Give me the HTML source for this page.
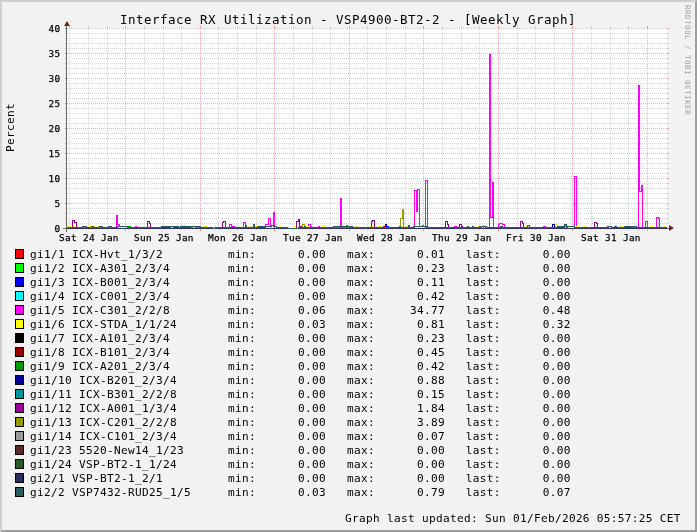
<!DOCTYPE html><html><head><meta charset="utf-8"><title>Interface RX Utilization</title><style>html,body{margin:0;padding:0;background:#f2f2f2;}body{width:697px;height:532px;overflow:hidden;position:relative;}</style></head><body><svg width="697" height="532" viewBox="0 0 697 532" style="position:absolute;left:0;top:0">
<rect x="0" y="0" width="697" height="532" fill="#f2f2f2"/>
<polygon points="0,0 697,0 695,2 2,2 2,530 0,532" fill="#cfcfcf"/>
<polygon points="697,0 697,532 0,532 2,530 695,530 695,2" fill="#9e9e9e"/>
<rect x="67" y="28" width="600" height="200" fill="#ffffff"/>
<g shape-rendering="crispEdges" stroke-width="1" fill="none"><line x1="65" y1="228.5" x2="669" y2="228.5" stroke="rgba(222,79,79,0.43)" stroke-dasharray="1 1"/><line x1="65" y1="228.5" x2="67" y2="228.5" stroke="rgba(222,79,79,0.43)"/><line x1="667" y1="228.5" x2="669" y2="228.5" stroke="rgba(222,79,79,0.43)"/><line x1="66" y1="223.5" x2="668" y2="223.5" stroke="rgba(143,143,143,0.366)" stroke-dasharray="1 1"/><line x1="65" y1="223.5" x2="67" y2="223.5" stroke="rgba(143,143,143,0.366)"/><line x1="667" y1="223.5" x2="669" y2="223.5" stroke="rgba(143,143,143,0.366)"/><line x1="66" y1="218.5" x2="668" y2="218.5" stroke="rgba(143,143,143,0.366)" stroke-dasharray="1 1"/><line x1="65" y1="218.5" x2="67" y2="218.5" stroke="rgba(143,143,143,0.366)"/><line x1="667" y1="218.5" x2="669" y2="218.5" stroke="rgba(143,143,143,0.366)"/><line x1="66" y1="213.5" x2="668" y2="213.5" stroke="rgba(143,143,143,0.366)" stroke-dasharray="1 1"/><line x1="65" y1="213.5" x2="67" y2="213.5" stroke="rgba(143,143,143,0.366)"/><line x1="667" y1="213.5" x2="669" y2="213.5" stroke="rgba(143,143,143,0.366)"/><line x1="66" y1="208.5" x2="668" y2="208.5" stroke="rgba(143,143,143,0.366)" stroke-dasharray="1 1"/><line x1="65" y1="208.5" x2="67" y2="208.5" stroke="rgba(143,143,143,0.366)"/><line x1="667" y1="208.5" x2="669" y2="208.5" stroke="rgba(143,143,143,0.366)"/><line x1="65" y1="203.5" x2="669" y2="203.5" stroke="rgba(222,79,79,0.43)" stroke-dasharray="1 1"/><line x1="65" y1="203.5" x2="67" y2="203.5" stroke="rgba(222,79,79,0.43)"/><line x1="667" y1="203.5" x2="669" y2="203.5" stroke="rgba(222,79,79,0.43)"/><line x1="66" y1="198.5" x2="668" y2="198.5" stroke="rgba(143,143,143,0.366)" stroke-dasharray="1 1"/><line x1="65" y1="198.5" x2="67" y2="198.5" stroke="rgba(143,143,143,0.366)"/><line x1="667" y1="198.5" x2="669" y2="198.5" stroke="rgba(143,143,143,0.366)"/><line x1="66" y1="193.5" x2="668" y2="193.5" stroke="rgba(143,143,143,0.366)" stroke-dasharray="1 1"/><line x1="65" y1="193.5" x2="67" y2="193.5" stroke="rgba(143,143,143,0.366)"/><line x1="667" y1="193.5" x2="669" y2="193.5" stroke="rgba(143,143,143,0.366)"/><line x1="66" y1="188.5" x2="668" y2="188.5" stroke="rgba(143,143,143,0.366)" stroke-dasharray="1 1"/><line x1="65" y1="188.5" x2="67" y2="188.5" stroke="rgba(143,143,143,0.366)"/><line x1="667" y1="188.5" x2="669" y2="188.5" stroke="rgba(143,143,143,0.366)"/><line x1="66" y1="183.5" x2="668" y2="183.5" stroke="rgba(143,143,143,0.366)" stroke-dasharray="1 1"/><line x1="65" y1="183.5" x2="67" y2="183.5" stroke="rgba(143,143,143,0.366)"/><line x1="667" y1="183.5" x2="669" y2="183.5" stroke="rgba(143,143,143,0.366)"/><line x1="65" y1="178.5" x2="669" y2="178.5" stroke="rgba(222,79,79,0.43)" stroke-dasharray="1 1"/><line x1="65" y1="178.5" x2="67" y2="178.5" stroke="rgba(222,79,79,0.43)"/><line x1="667" y1="178.5" x2="669" y2="178.5" stroke="rgba(222,79,79,0.43)"/><line x1="66" y1="173.5" x2="668" y2="173.5" stroke="rgba(143,143,143,0.366)" stroke-dasharray="1 1"/><line x1="65" y1="173.5" x2="67" y2="173.5" stroke="rgba(143,143,143,0.366)"/><line x1="667" y1="173.5" x2="669" y2="173.5" stroke="rgba(143,143,143,0.366)"/><line x1="66" y1="168.5" x2="668" y2="168.5" stroke="rgba(143,143,143,0.366)" stroke-dasharray="1 1"/><line x1="65" y1="168.5" x2="67" y2="168.5" stroke="rgba(143,143,143,0.366)"/><line x1="667" y1="168.5" x2="669" y2="168.5" stroke="rgba(143,143,143,0.366)"/><line x1="66" y1="163.5" x2="668" y2="163.5" stroke="rgba(143,143,143,0.366)" stroke-dasharray="1 1"/><line x1="65" y1="163.5" x2="67" y2="163.5" stroke="rgba(143,143,143,0.366)"/><line x1="667" y1="163.5" x2="669" y2="163.5" stroke="rgba(143,143,143,0.366)"/><line x1="66" y1="158.5" x2="668" y2="158.5" stroke="rgba(143,143,143,0.366)" stroke-dasharray="1 1"/><line x1="65" y1="158.5" x2="67" y2="158.5" stroke="rgba(143,143,143,0.366)"/><line x1="667" y1="158.5" x2="669" y2="158.5" stroke="rgba(143,143,143,0.366)"/><line x1="65" y1="153.5" x2="669" y2="153.5" stroke="rgba(222,79,79,0.43)" stroke-dasharray="1 1"/><line x1="65" y1="153.5" x2="67" y2="153.5" stroke="rgba(222,79,79,0.43)"/><line x1="667" y1="153.5" x2="669" y2="153.5" stroke="rgba(222,79,79,0.43)"/><line x1="66" y1="148.5" x2="668" y2="148.5" stroke="rgba(143,143,143,0.366)" stroke-dasharray="1 1"/><line x1="65" y1="148.5" x2="67" y2="148.5" stroke="rgba(143,143,143,0.366)"/><line x1="667" y1="148.5" x2="669" y2="148.5" stroke="rgba(143,143,143,0.366)"/><line x1="66" y1="143.5" x2="668" y2="143.5" stroke="rgba(143,143,143,0.366)" stroke-dasharray="1 1"/><line x1="65" y1="143.5" x2="67" y2="143.5" stroke="rgba(143,143,143,0.366)"/><line x1="667" y1="143.5" x2="669" y2="143.5" stroke="rgba(143,143,143,0.366)"/><line x1="66" y1="138.5" x2="668" y2="138.5" stroke="rgba(143,143,143,0.366)" stroke-dasharray="1 1"/><line x1="65" y1="138.5" x2="67" y2="138.5" stroke="rgba(143,143,143,0.366)"/><line x1="667" y1="138.5" x2="669" y2="138.5" stroke="rgba(143,143,143,0.366)"/><line x1="66" y1="133.5" x2="668" y2="133.5" stroke="rgba(143,143,143,0.366)" stroke-dasharray="1 1"/><line x1="65" y1="133.5" x2="67" y2="133.5" stroke="rgba(143,143,143,0.366)"/><line x1="667" y1="133.5" x2="669" y2="133.5" stroke="rgba(143,143,143,0.366)"/><line x1="65" y1="128.5" x2="669" y2="128.5" stroke="rgba(222,79,79,0.43)" stroke-dasharray="1 1"/><line x1="65" y1="128.5" x2="67" y2="128.5" stroke="rgba(222,79,79,0.43)"/><line x1="667" y1="128.5" x2="669" y2="128.5" stroke="rgba(222,79,79,0.43)"/><line x1="66" y1="123.5" x2="668" y2="123.5" stroke="rgba(143,143,143,0.366)" stroke-dasharray="1 1"/><line x1="65" y1="123.5" x2="67" y2="123.5" stroke="rgba(143,143,143,0.366)"/><line x1="667" y1="123.5" x2="669" y2="123.5" stroke="rgba(143,143,143,0.366)"/><line x1="66" y1="118.5" x2="668" y2="118.5" stroke="rgba(143,143,143,0.366)" stroke-dasharray="1 1"/><line x1="65" y1="118.5" x2="67" y2="118.5" stroke="rgba(143,143,143,0.366)"/><line x1="667" y1="118.5" x2="669" y2="118.5" stroke="rgba(143,143,143,0.366)"/><line x1="66" y1="113.5" x2="668" y2="113.5" stroke="rgba(143,143,143,0.366)" stroke-dasharray="1 1"/><line x1="65" y1="113.5" x2="67" y2="113.5" stroke="rgba(143,143,143,0.366)"/><line x1="667" y1="113.5" x2="669" y2="113.5" stroke="rgba(143,143,143,0.366)"/><line x1="66" y1="108.5" x2="668" y2="108.5" stroke="rgba(143,143,143,0.366)" stroke-dasharray="1 1"/><line x1="65" y1="108.5" x2="67" y2="108.5" stroke="rgba(143,143,143,0.366)"/><line x1="667" y1="108.5" x2="669" y2="108.5" stroke="rgba(143,143,143,0.366)"/><line x1="65" y1="103.5" x2="669" y2="103.5" stroke="rgba(222,79,79,0.43)" stroke-dasharray="1 1"/><line x1="65" y1="103.5" x2="67" y2="103.5" stroke="rgba(222,79,79,0.43)"/><line x1="667" y1="103.5" x2="669" y2="103.5" stroke="rgba(222,79,79,0.43)"/><line x1="66" y1="98.5" x2="668" y2="98.5" stroke="rgba(143,143,143,0.366)" stroke-dasharray="1 1"/><line x1="65" y1="98.5" x2="67" y2="98.5" stroke="rgba(143,143,143,0.366)"/><line x1="667" y1="98.5" x2="669" y2="98.5" stroke="rgba(143,143,143,0.366)"/><line x1="66" y1="93.5" x2="668" y2="93.5" stroke="rgba(143,143,143,0.366)" stroke-dasharray="1 1"/><line x1="65" y1="93.5" x2="67" y2="93.5" stroke="rgba(143,143,143,0.366)"/><line x1="667" y1="93.5" x2="669" y2="93.5" stroke="rgba(143,143,143,0.366)"/><line x1="66" y1="88.5" x2="668" y2="88.5" stroke="rgba(143,143,143,0.366)" stroke-dasharray="1 1"/><line x1="65" y1="88.5" x2="67" y2="88.5" stroke="rgba(143,143,143,0.366)"/><line x1="667" y1="88.5" x2="669" y2="88.5" stroke="rgba(143,143,143,0.366)"/><line x1="66" y1="83.5" x2="668" y2="83.5" stroke="rgba(143,143,143,0.366)" stroke-dasharray="1 1"/><line x1="65" y1="83.5" x2="67" y2="83.5" stroke="rgba(143,143,143,0.366)"/><line x1="667" y1="83.5" x2="669" y2="83.5" stroke="rgba(143,143,143,0.366)"/><line x1="65" y1="78.5" x2="669" y2="78.5" stroke="rgba(222,79,79,0.43)" stroke-dasharray="1 1"/><line x1="65" y1="78.5" x2="67" y2="78.5" stroke="rgba(222,79,79,0.43)"/><line x1="667" y1="78.5" x2="669" y2="78.5" stroke="rgba(222,79,79,0.43)"/><line x1="66" y1="73.5" x2="668" y2="73.5" stroke="rgba(143,143,143,0.366)" stroke-dasharray="1 1"/><line x1="65" y1="73.5" x2="67" y2="73.5" stroke="rgba(143,143,143,0.366)"/><line x1="667" y1="73.5" x2="669" y2="73.5" stroke="rgba(143,143,143,0.366)"/><line x1="66" y1="68.5" x2="668" y2="68.5" stroke="rgba(143,143,143,0.366)" stroke-dasharray="1 1"/><line x1="65" y1="68.5" x2="67" y2="68.5" stroke="rgba(143,143,143,0.366)"/><line x1="667" y1="68.5" x2="669" y2="68.5" stroke="rgba(143,143,143,0.366)"/><line x1="66" y1="63.5" x2="668" y2="63.5" stroke="rgba(143,143,143,0.366)" stroke-dasharray="1 1"/><line x1="65" y1="63.5" x2="67" y2="63.5" stroke="rgba(143,143,143,0.366)"/><line x1="667" y1="63.5" x2="669" y2="63.5" stroke="rgba(143,143,143,0.366)"/><line x1="66" y1="58.5" x2="668" y2="58.5" stroke="rgba(143,143,143,0.366)" stroke-dasharray="1 1"/><line x1="65" y1="58.5" x2="67" y2="58.5" stroke="rgba(143,143,143,0.366)"/><line x1="667" y1="58.5" x2="669" y2="58.5" stroke="rgba(143,143,143,0.366)"/><line x1="65" y1="53.5" x2="669" y2="53.5" stroke="rgba(222,79,79,0.43)" stroke-dasharray="1 1"/><line x1="65" y1="53.5" x2="67" y2="53.5" stroke="rgba(222,79,79,0.43)"/><line x1="667" y1="53.5" x2="669" y2="53.5" stroke="rgba(222,79,79,0.43)"/><line x1="66" y1="48.5" x2="668" y2="48.5" stroke="rgba(143,143,143,0.366)" stroke-dasharray="1 1"/><line x1="65" y1="48.5" x2="67" y2="48.5" stroke="rgba(143,143,143,0.366)"/><line x1="667" y1="48.5" x2="669" y2="48.5" stroke="rgba(143,143,143,0.366)"/><line x1="66" y1="43.5" x2="668" y2="43.5" stroke="rgba(143,143,143,0.366)" stroke-dasharray="1 1"/><line x1="65" y1="43.5" x2="67" y2="43.5" stroke="rgba(143,143,143,0.366)"/><line x1="667" y1="43.5" x2="669" y2="43.5" stroke="rgba(143,143,143,0.366)"/><line x1="66" y1="38.5" x2="668" y2="38.5" stroke="rgba(143,143,143,0.366)" stroke-dasharray="1 1"/><line x1="65" y1="38.5" x2="67" y2="38.5" stroke="rgba(143,143,143,0.366)"/><line x1="667" y1="38.5" x2="669" y2="38.5" stroke="rgba(143,143,143,0.366)"/><line x1="66" y1="33.5" x2="668" y2="33.5" stroke="rgba(143,143,143,0.366)" stroke-dasharray="1 1"/><line x1="65" y1="33.5" x2="67" y2="33.5" stroke="rgba(143,143,143,0.366)"/><line x1="667" y1="33.5" x2="669" y2="33.5" stroke="rgba(143,143,143,0.366)"/><line x1="65" y1="28.5" x2="669" y2="28.5" stroke="rgba(222,79,79,0.43)" stroke-dasharray="1 1"/><line x1="65" y1="28.5" x2="67" y2="28.5" stroke="rgba(222,79,79,0.43)"/><line x1="667" y1="28.5" x2="669" y2="28.5" stroke="rgba(222,79,79,0.43)"/><line x1="69.5" y1="229" x2="69.5" y2="27" stroke="rgba(143,143,143,0.366)" stroke-dasharray="1 1"/><line x1="69.5" y1="26" x2="69.5" y2="28" stroke="rgba(143,143,143,0.366)"/><line x1="69.5" y1="228" x2="69.5" y2="230" stroke="rgba(143,143,143,0.366)"/><line x1="88.5" y1="229" x2="88.5" y2="27" stroke="rgba(143,143,143,0.366)" stroke-dasharray="1 1"/><line x1="88.5" y1="26" x2="88.5" y2="28" stroke="rgba(143,143,143,0.366)"/><line x1="88.5" y1="228" x2="88.5" y2="230" stroke="rgba(143,143,143,0.366)"/><line x1="107.5" y1="229" x2="107.5" y2="27" stroke="rgba(143,143,143,0.366)" stroke-dasharray="1 1"/><line x1="107.5" y1="26" x2="107.5" y2="28" stroke="rgba(143,143,143,0.366)"/><line x1="107.5" y1="228" x2="107.5" y2="230" stroke="rgba(143,143,143,0.366)"/><line x1="144.5" y1="229" x2="144.5" y2="27" stroke="rgba(143,143,143,0.366)" stroke-dasharray="1 1"/><line x1="144.5" y1="26" x2="144.5" y2="28" stroke="rgba(143,143,143,0.366)"/><line x1="144.5" y1="228" x2="144.5" y2="230" stroke="rgba(143,143,143,0.366)"/><line x1="163.5" y1="229" x2="163.5" y2="27" stroke="rgba(143,143,143,0.366)" stroke-dasharray="1 1"/><line x1="163.5" y1="26" x2="163.5" y2="28" stroke="rgba(143,143,143,0.366)"/><line x1="163.5" y1="228" x2="163.5" y2="230" stroke="rgba(143,143,143,0.366)"/><line x1="181.5" y1="229" x2="181.5" y2="27" stroke="rgba(143,143,143,0.366)" stroke-dasharray="1 1"/><line x1="181.5" y1="26" x2="181.5" y2="28" stroke="rgba(143,143,143,0.366)"/><line x1="181.5" y1="228" x2="181.5" y2="230" stroke="rgba(143,143,143,0.366)"/><line x1="218.5" y1="229" x2="218.5" y2="27" stroke="rgba(143,143,143,0.366)" stroke-dasharray="1 1"/><line x1="218.5" y1="26" x2="218.5" y2="28" stroke="rgba(143,143,143,0.366)"/><line x1="218.5" y1="228" x2="218.5" y2="230" stroke="rgba(143,143,143,0.366)"/><line x1="237.5" y1="229" x2="237.5" y2="27" stroke="rgba(143,143,143,0.366)" stroke-dasharray="1 1"/><line x1="237.5" y1="26" x2="237.5" y2="28" stroke="rgba(143,143,143,0.366)"/><line x1="237.5" y1="228" x2="237.5" y2="230" stroke="rgba(143,143,143,0.366)"/><line x1="256.5" y1="229" x2="256.5" y2="27" stroke="rgba(143,143,143,0.366)" stroke-dasharray="1 1"/><line x1="256.5" y1="26" x2="256.5" y2="28" stroke="rgba(143,143,143,0.366)"/><line x1="256.5" y1="228" x2="256.5" y2="230" stroke="rgba(143,143,143,0.366)"/><line x1="293.5" y1="229" x2="293.5" y2="27" stroke="rgba(143,143,143,0.366)" stroke-dasharray="1 1"/><line x1="293.5" y1="26" x2="293.5" y2="28" stroke="rgba(143,143,143,0.366)"/><line x1="293.5" y1="228" x2="293.5" y2="230" stroke="rgba(143,143,143,0.366)"/><line x1="312.5" y1="229" x2="312.5" y2="27" stroke="rgba(143,143,143,0.366)" stroke-dasharray="1 1"/><line x1="312.5" y1="26" x2="312.5" y2="28" stroke="rgba(143,143,143,0.366)"/><line x1="312.5" y1="228" x2="312.5" y2="230" stroke="rgba(143,143,143,0.366)"/><line x1="330.5" y1="229" x2="330.5" y2="27" stroke="rgba(143,143,143,0.366)" stroke-dasharray="1 1"/><line x1="330.5" y1="26" x2="330.5" y2="28" stroke="rgba(143,143,143,0.366)"/><line x1="330.5" y1="228" x2="330.5" y2="230" stroke="rgba(143,143,143,0.366)"/><line x1="367.5" y1="229" x2="367.5" y2="27" stroke="rgba(143,143,143,0.366)" stroke-dasharray="1 1"/><line x1="367.5" y1="26" x2="367.5" y2="28" stroke="rgba(143,143,143,0.366)"/><line x1="367.5" y1="228" x2="367.5" y2="230" stroke="rgba(143,143,143,0.366)"/><line x1="386.5" y1="229" x2="386.5" y2="27" stroke="rgba(143,143,143,0.366)" stroke-dasharray="1 1"/><line x1="386.5" y1="26" x2="386.5" y2="28" stroke="rgba(143,143,143,0.366)"/><line x1="386.5" y1="228" x2="386.5" y2="230" stroke="rgba(143,143,143,0.366)"/><line x1="405.5" y1="229" x2="405.5" y2="27" stroke="rgba(143,143,143,0.366)" stroke-dasharray="1 1"/><line x1="405.5" y1="26" x2="405.5" y2="28" stroke="rgba(143,143,143,0.366)"/><line x1="405.5" y1="228" x2="405.5" y2="230" stroke="rgba(143,143,143,0.366)"/><line x1="442.5" y1="229" x2="442.5" y2="27" stroke="rgba(143,143,143,0.366)" stroke-dasharray="1 1"/><line x1="442.5" y1="26" x2="442.5" y2="28" stroke="rgba(143,143,143,0.366)"/><line x1="442.5" y1="228" x2="442.5" y2="230" stroke="rgba(143,143,143,0.366)"/><line x1="461.5" y1="229" x2="461.5" y2="27" stroke="rgba(143,143,143,0.366)" stroke-dasharray="1 1"/><line x1="461.5" y1="26" x2="461.5" y2="28" stroke="rgba(143,143,143,0.366)"/><line x1="461.5" y1="228" x2="461.5" y2="230" stroke="rgba(143,143,143,0.366)"/><line x1="479.5" y1="229" x2="479.5" y2="27" stroke="rgba(143,143,143,0.366)" stroke-dasharray="1 1"/><line x1="479.5" y1="26" x2="479.5" y2="28" stroke="rgba(143,143,143,0.366)"/><line x1="479.5" y1="228" x2="479.5" y2="230" stroke="rgba(143,143,143,0.366)"/><line x1="517.5" y1="229" x2="517.5" y2="27" stroke="rgba(143,143,143,0.366)" stroke-dasharray="1 1"/><line x1="517.5" y1="26" x2="517.5" y2="28" stroke="rgba(143,143,143,0.366)"/><line x1="517.5" y1="228" x2="517.5" y2="230" stroke="rgba(143,143,143,0.366)"/><line x1="535.5" y1="229" x2="535.5" y2="27" stroke="rgba(143,143,143,0.366)" stroke-dasharray="1 1"/><line x1="535.5" y1="26" x2="535.5" y2="28" stroke="rgba(143,143,143,0.366)"/><line x1="535.5" y1="228" x2="535.5" y2="230" stroke="rgba(143,143,143,0.366)"/><line x1="554.5" y1="229" x2="554.5" y2="27" stroke="rgba(143,143,143,0.366)" stroke-dasharray="1 1"/><line x1="554.5" y1="26" x2="554.5" y2="28" stroke="rgba(143,143,143,0.366)"/><line x1="554.5" y1="228" x2="554.5" y2="230" stroke="rgba(143,143,143,0.366)"/><line x1="591.5" y1="229" x2="591.5" y2="27" stroke="rgba(143,143,143,0.366)" stroke-dasharray="1 1"/><line x1="591.5" y1="26" x2="591.5" y2="28" stroke="rgba(143,143,143,0.366)"/><line x1="591.5" y1="228" x2="591.5" y2="230" stroke="rgba(143,143,143,0.366)"/><line x1="610.5" y1="229" x2="610.5" y2="27" stroke="rgba(143,143,143,0.366)" stroke-dasharray="1 1"/><line x1="610.5" y1="26" x2="610.5" y2="28" stroke="rgba(143,143,143,0.366)"/><line x1="610.5" y1="228" x2="610.5" y2="230" stroke="rgba(143,143,143,0.366)"/><line x1="628.5" y1="229" x2="628.5" y2="27" stroke="rgba(143,143,143,0.366)" stroke-dasharray="1 1"/><line x1="628.5" y1="26" x2="628.5" y2="28" stroke="rgba(143,143,143,0.366)"/><line x1="628.5" y1="228" x2="628.5" y2="230" stroke="rgba(143,143,143,0.366)"/><line x1="125.5" y1="231" x2="125.5" y2="26" stroke="rgba(222,79,79,0.43)" stroke-dasharray="1 1"/><line x1="125.5" y1="26" x2="125.5" y2="28" stroke="rgba(222,79,79,0.43)"/><line x1="125.5" y1="228" x2="125.5" y2="231" stroke="rgba(222,79,79,0.43)"/><line x1="200.5" y1="231" x2="200.5" y2="26" stroke="rgba(222,79,79,0.43)" stroke-dasharray="1 1"/><line x1="200.5" y1="26" x2="200.5" y2="28" stroke="rgba(222,79,79,0.43)"/><line x1="200.5" y1="228" x2="200.5" y2="231" stroke="rgba(222,79,79,0.43)"/><line x1="274.5" y1="231" x2="274.5" y2="26" stroke="rgba(222,79,79,0.43)" stroke-dasharray="1 1"/><line x1="274.5" y1="26" x2="274.5" y2="28" stroke="rgba(222,79,79,0.43)"/><line x1="274.5" y1="228" x2="274.5" y2="231" stroke="rgba(222,79,79,0.43)"/><line x1="349.5" y1="231" x2="349.5" y2="26" stroke="rgba(222,79,79,0.43)" stroke-dasharray="1 1"/><line x1="349.5" y1="26" x2="349.5" y2="28" stroke="rgba(222,79,79,0.43)"/><line x1="349.5" y1="228" x2="349.5" y2="231" stroke="rgba(222,79,79,0.43)"/><line x1="423.5" y1="231" x2="423.5" y2="26" stroke="rgba(222,79,79,0.43)" stroke-dasharray="1 1"/><line x1="423.5" y1="26" x2="423.5" y2="28" stroke="rgba(222,79,79,0.43)"/><line x1="423.5" y1="228" x2="423.5" y2="231" stroke="rgba(222,79,79,0.43)"/><line x1="498.5" y1="231" x2="498.5" y2="26" stroke="rgba(222,79,79,0.43)" stroke-dasharray="1 1"/><line x1="498.5" y1="26" x2="498.5" y2="28" stroke="rgba(222,79,79,0.43)"/><line x1="498.5" y1="228" x2="498.5" y2="231" stroke="rgba(222,79,79,0.43)"/><line x1="572.5" y1="231" x2="572.5" y2="26" stroke="rgba(222,79,79,0.43)" stroke-dasharray="1 1"/><line x1="572.5" y1="26" x2="572.5" y2="28" stroke="rgba(222,79,79,0.43)"/><line x1="572.5" y1="228" x2="572.5" y2="231" stroke="rgba(222,79,79,0.43)"/><line x1="647.5" y1="231" x2="647.5" y2="26" stroke="rgba(222,79,79,0.43)" stroke-dasharray="1 1"/><line x1="647.5" y1="26" x2="647.5" y2="28" stroke="rgba(222,79,79,0.43)"/><line x1="647.5" y1="228" x2="647.5" y2="231" stroke="rgba(222,79,79,0.43)"/></g>
<g shape-rendering="crispEdges" stroke-width="1"><line x1="63" y1="228.5" x2="671" y2="228.5" stroke="#666666"/><line x1="66.5" y1="232" x2="66.5" y2="24" stroke="#666666"/></g>
<g fill="none" stroke-width="1" shape-rendering="crispEdges" stroke-linejoin="miter">
<path d="M67,227.5H212.5V228.5H215.5V227.5H287.5V228.5H298.5V227.5H365.5V228.5H366.5V227.5H667" stroke="#2a5c5c"/>
<path d="M67,228.5H383.5V226.5H384.5V228.5H667" stroke="#ff0000"/>
<path d="M67,228.5H385.5V224.5H386.5V226.5H388.5V228.5H667" stroke="#0000ff"/>
<path d="M67,228.5H83.5V227.5H85.5V228.5H92.5V227.5H93.5V228.5H100.5V227.5H101.5V228.5H109.5V227.5H110.5V228.5H116.5V215.5H117.5V224.5H119.5V228.5H135.5V226.5H136.5V228.5H191.5V227.5H192.5V228.5H195.5V227.5H199.5V228.5H213.5V227.5H214.5V228.5H229.5V224.5H231.5V226.5H234.5V228.5H243.5V222.5H245.5V228.5H265.5V224.5H268.5V218.5H270.5V227.5H273.5V212.5H274.5V228.5H308.5V224.5H310.5V226.5H311.5V228.5H318.5V226.5H319.5V228.5H334.5V227.5H340.5V198.5H341.5V227.5H347.5V228.5H414.5V190.5H416.5V211.5H417.5V189.5H419.5V228.5H422.5V225.5H423.5V228.5H425.5V180.5H427.5V228.5H434.5V227.5H435.5V228.5H454.5V226.5H456.5V228.5H480.5V227.5H481.5V228.5H485.5V227.5H486.5V228.5H489.5V54.5H490.5V217.5H492.5V182.5H493.5V228.5H498.5V224.5H499.5V223.5H502.5V224.5H504.5V228.5H522.5V227.5H523.5V228.5H528.5V227.5H529.5V228.5H543.5V226.5H545.5V228.5H564.5V225.5H565.5V228.5H574.5V176.5H576.5V228.5H589.5V227.5H590.5V228.5H634.5V227.5H635.5V228.5H638.5V85.5H639.5V191.5H641.5V185.5H642.5V228.5H645.5V221.5H647.5V228.5H656.5V217.5H658.5V218.5H659.5V228.5H667" stroke="#ff00ff"/>
<path d="M67,225.5H68.5V226.5H70.5V227.5H71.5V228.5H73.5V226.5H75.5V228.5H87.5V226.5H90.5V228.5H94.5V226.5H95.5V228.5H97.5V226.5H98.5V228.5H117.5V227.5H126.5V228.5H139.5V227.5H140.5V228.5H142.5V227.5H145.5V228.5H171.5V226.5H172.5V228.5H180.5V225.5H186.5V228.5H193.5V226.5H194.5V228.5H204.5V226.5H206.5V228.5H212.5V227.5H213.5V228.5H249.5V226.5H251.5V228.5H255.5V226.5H256.5V228.5H266.5V227.5H270.5V228.5H271.5V227.5H273.5V228.5H275.5V227.5H276.5V228.5H279.5V226.5H281.5V228.5H288.5V227.5H290.5V228.5H293.5V226.5H295.5V228.5H306.5V226.5H308.5V228.5H322.5V225.5H324.5V228.5H355.5V226.5H357.5V228.5H359.5V227.5H360.5V228.5H369.5V225.5H370.5V228.5H372.5V226.5H373.5V228.5H378.5V226.5H380.5V228.5H401.5V226.5H402.5V228.5H406.5V225.5H407.5V228.5H415.5V227.5H424.5V228.5H438.5V227.5H441.5V228.5H447.5V227.5H448.5V228.5H478.5V225.5H479.5V228.5H482.5V225.5H484.5V228.5H490.5V227.5H492.5V228.5H495.5V227.5H498.5V228.5H502.5V227.5H503.5V228.5H513.5V227.5H514.5V228.5H526.5V226.5H527.5V228.5H551.5V226.5H552.5V228.5H555.5V224.5H557.5V228.5H564.5V227.5H565.5V228.5H566.5V227.5H574.5V228.5H575.5V226.5H579.5V228.5H583.5V226.5H585.5V228.5H587.5V227.5H588.5V228.5H590.5V227.5H593.5V228.5H596.5V227.5H597.5V228.5H609.5V226.5H610.5V228.5H619.5V225.5H621.5V226.5H623.5V228.5H627.5V225.5H628.5V228.5H640.5V227.5H641.5V228.5H643.5V227.5H645.5V228.5H650.5V226.5H652.5V228.5H662.5V227.5H663.5V226.5H665.5V228.5H667" stroke="#ffff00"/>
<path d="M67,228.5H128.5V226.5H130.5V228.5H347.5V227.5H351.5V228.5H566.5V227.5H567.5V228.5H667" stroke="#009900"/>
<path d="M67,228.5H552.5V224.5H554.5V228.5H667" stroke="#000099"/>
<path d="M67,228.5H72.5V220.5H74.5V222.5H76.5V228.5H147.5V221.5H149.5V223.5H150.5V228.5H162.5V227.5H169.5V228.5H173.5V227.5H177.5V228.5H181.5V227.5H190.5V228.5H222.5V222.5H223.5V221.5H225.5V228.5H257.5V227.5H264.5V228.5H296.5V221.5H298.5V219.5H299.5V226.5H301.5V228.5H371.5V221.5H372.5V220.5H374.5V228.5H404.5V227.5H405.5V228.5H445.5V221.5H447.5V224.5H448.5V228.5H459.5V224.5H461.5V226.5H462.5V228.5H520.5V221.5H522.5V223.5H523.5V228.5H559.5V227.5H563.5V228.5H594.5V222.5H596.5V223.5H597.5V228.5H615.5V227.5H616.5V228.5H625.5V227.5H630.5V228.5H667" stroke="#990099"/>
<path d="M67,228.5H302.5V224.5H304.5V228.5H400.5V218.5H402.5V209.5H403.5V228.5H667" stroke="#999900"/>
<path d="M67,228.5H667" stroke="#2a2a5c"/>
<path d="M67,227.5H82.5V226.5H86.5V227.5H91.5V226.5H93.5V227.5H99.5V226.5H102.5V227.5H108.5V226.5H111.5V227.5H117.5V226.5H127.5V227.5H161.5V226.5H178.5V227.5H180.5V226.5H200.5V227.5H212.5V228.5H215.5V227.5H245.5V225.5H246.5V227.5H253.5V224.5H254.5V227.5H257.5V226.5H271.5V225.5H273.5V226.5H276.5V227.5H287.5V228.5H298.5V227.5H304.5V226.5H305.5V227.5H333.5V226.5H340.5V227.5H341.5V226.5H346.5V225.5H347.5V226.5H352.5V227.5H365.5V228.5H366.5V227.5H399.5V226.5H400.5V227.5H408.5V225.5H409.5V227.5H413.5V226.5H427.5V227.5H467.5V226.5H468.5V227.5H472.5V226.5H473.5V227.5H479.5V226.5H486.5V227.5H500.5V226.5H502.5V227.5H527.5V225.5H529.5V227.5H557.5V226.5H563.5V227.5H564.5V224.5H566.5V226.5H574.5V227.5H607.5V226.5H611.5V227.5H614.5V226.5H616.5V227.5H624.5V226.5H636.5V227.5H667" stroke="#2a5c5c"/>
</g>
<g shape-rendering="crispEdges"><line x1="65" y1="228.5" x2="669" y2="228.5" stroke="rgba(222,79,79,0.25)" stroke-dasharray="1 1"/></g>
<polygon points="64,26 70,26 67,21" fill="#801f1f"/>
<polygon points="669,225 669,231 674,228" fill="#801f1f"/>
<g font-family="'DejaVu Sans Mono','Liberation Mono',monospace" style="white-space:pre">
<text xml:space="preserve" x="120" y="23.5" font-size="12.5px" letter-spacing="0.4743750000000002px" text-anchor="start" fill="#000" >Interface RX Utilization - VSP4900-BT2-2 - [Weekly Graph]</text>
<text xml:space="preserve" x="54.5" y="232" font-size="9.4px" letter-spacing="0.34072999999999976px" text-anchor="start" fill="#000" stroke="#000" stroke-width="0.25">0</text>
<text xml:space="preserve" x="54.5" y="207" font-size="9.4px" letter-spacing="0.34072999999999976px" text-anchor="start" fill="#000" stroke="#000" stroke-width="0.25">5</text>
<text xml:space="preserve" x="48.5" y="182" font-size="9.4px" letter-spacing="0.34072999999999976px" text-anchor="start" fill="#000" stroke="#000" stroke-width="0.25">10</text>
<text xml:space="preserve" x="48.5" y="157" font-size="9.4px" letter-spacing="0.34072999999999976px" text-anchor="start" fill="#000" stroke="#000" stroke-width="0.25">15</text>
<text xml:space="preserve" x="48.5" y="132" font-size="9.4px" letter-spacing="0.34072999999999976px" text-anchor="start" fill="#000" stroke="#000" stroke-width="0.25">20</text>
<text xml:space="preserve" x="48.5" y="107" font-size="9.4px" letter-spacing="0.34072999999999976px" text-anchor="start" fill="#000" stroke="#000" stroke-width="0.25">25</text>
<text xml:space="preserve" x="48.5" y="82" font-size="9.4px" letter-spacing="0.34072999999999976px" text-anchor="start" fill="#000" stroke="#000" stroke-width="0.25">30</text>
<text xml:space="preserve" x="48.5" y="57" font-size="9.4px" letter-spacing="0.34072999999999976px" text-anchor="start" fill="#000" stroke="#000" stroke-width="0.25">35</text>
<text xml:space="preserve" x="48.5" y="32" font-size="9.4px" letter-spacing="0.34072999999999976px" text-anchor="start" fill="#000" stroke="#000" stroke-width="0.25">40</text>
<text xml:space="preserve" x="59" y="241" font-size="9.4px" letter-spacing="0.34072999999999976px" text-anchor="start" fill="#000" stroke="#000" stroke-width="0.25">Sat 24 Jan</text>
<text xml:space="preserve" x="134" y="241" font-size="9.4px" letter-spacing="0.34072999999999976px" text-anchor="start" fill="#000" stroke="#000" stroke-width="0.25">Sun 25 Jan</text>
<text xml:space="preserve" x="208" y="241" font-size="9.4px" letter-spacing="0.34072999999999976px" text-anchor="start" fill="#000" stroke="#000" stroke-width="0.25">Mon 26 Jan</text>
<text xml:space="preserve" x="283" y="241" font-size="9.4px" letter-spacing="0.34072999999999976px" text-anchor="start" fill="#000" stroke="#000" stroke-width="0.25">Tue 27 Jan</text>
<text xml:space="preserve" x="357" y="241" font-size="9.4px" letter-spacing="0.34072999999999976px" text-anchor="start" fill="#000" stroke="#000" stroke-width="0.25">Wed 28 Jan</text>
<text xml:space="preserve" x="432" y="241" font-size="9.4px" letter-spacing="0.34072999999999976px" text-anchor="start" fill="#000" stroke="#000" stroke-width="0.25">Thu 29 Jan</text>
<text xml:space="preserve" x="506" y="241" font-size="9.4px" letter-spacing="0.34072999999999976px" text-anchor="start" fill="#000" stroke="#000" stroke-width="0.25">Fri 30 Jan</text>
<text xml:space="preserve" x="581" y="241" font-size="9.4px" letter-spacing="0.34072999999999976px" text-anchor="start" fill="#000" stroke="#000" stroke-width="0.25">Sat 31 Jan</text>
<text transform="translate(13.5,152) rotate(-90)" font-size="11.1px" letter-spacing="0.31724500000000067px">Percent</text>
<text transform="translate(685,5) rotate(90)" font-size="7.5px" letter-spacing="0.4846250000000003px" fill="#9e9e9e">RRDTOOL / TOBI OETIKER</text>
<text xml:space="preserve" x="30" y="258" font-size="11.1px" letter-spacing="0.31724500000000067px" text-anchor="start" fill="#000" >gi1/1 ICX-Hvt_1/3/2</text>
<text xml:space="preserve" x="228" y="258" font-size="11.1px" letter-spacing="0.31724500000000067px" text-anchor="start" fill="#000" >min:      0.00   max:      0.01   last:      0.00</text>
<text xml:space="preserve" x="30" y="272" font-size="11.1px" letter-spacing="0.31724500000000067px" text-anchor="start" fill="#000" >gi1/2 ICX-A301_2/3/4</text>
<text xml:space="preserve" x="228" y="272" font-size="11.1px" letter-spacing="0.31724500000000067px" text-anchor="start" fill="#000" >min:      0.00   max:      0.23   last:      0.00</text>
<text xml:space="preserve" x="30" y="286" font-size="11.1px" letter-spacing="0.31724500000000067px" text-anchor="start" fill="#000" >gi1/3 ICX-B001_2/3/4</text>
<text xml:space="preserve" x="228" y="286" font-size="11.1px" letter-spacing="0.31724500000000067px" text-anchor="start" fill="#000" >min:      0.00   max:      0.11   last:      0.00</text>
<text xml:space="preserve" x="30" y="300" font-size="11.1px" letter-spacing="0.31724500000000067px" text-anchor="start" fill="#000" >gi1/4 ICX-C001_2/3/4</text>
<text xml:space="preserve" x="228" y="300" font-size="11.1px" letter-spacing="0.31724500000000067px" text-anchor="start" fill="#000" >min:      0.00   max:      0.42   last:      0.00</text>
<text xml:space="preserve" x="30" y="314" font-size="11.1px" letter-spacing="0.31724500000000067px" text-anchor="start" fill="#000" >gi1/5 ICX-C301_2/2/8</text>
<text xml:space="preserve" x="228" y="314" font-size="11.1px" letter-spacing="0.31724500000000067px" text-anchor="start" fill="#000" >min:      0.06   max:     34.77   last:      0.48</text>
<text xml:space="preserve" x="30" y="328" font-size="11.1px" letter-spacing="0.31724500000000067px" text-anchor="start" fill="#000" >gi1/6 ICX-STDA_1/1/24</text>
<text xml:space="preserve" x="228" y="328" font-size="11.1px" letter-spacing="0.31724500000000067px" text-anchor="start" fill="#000" >min:      0.03   max:      0.81   last:      0.32</text>
<text xml:space="preserve" x="30" y="342" font-size="11.1px" letter-spacing="0.31724500000000067px" text-anchor="start" fill="#000" >gi1/7 ICX-A101_2/3/4</text>
<text xml:space="preserve" x="228" y="342" font-size="11.1px" letter-spacing="0.31724500000000067px" text-anchor="start" fill="#000" >min:      0.00   max:      0.23   last:      0.00</text>
<text xml:space="preserve" x="30" y="356" font-size="11.1px" letter-spacing="0.31724500000000067px" text-anchor="start" fill="#000" >gi1/8 ICX-B101_2/3/4</text>
<text xml:space="preserve" x="228" y="356" font-size="11.1px" letter-spacing="0.31724500000000067px" text-anchor="start" fill="#000" >min:      0.00   max:      0.45   last:      0.00</text>
<text xml:space="preserve" x="30" y="370" font-size="11.1px" letter-spacing="0.31724500000000067px" text-anchor="start" fill="#000" >gi1/9 ICX-A201_2/3/4</text>
<text xml:space="preserve" x="228" y="370" font-size="11.1px" letter-spacing="0.31724500000000067px" text-anchor="start" fill="#000" >min:      0.00   max:      0.42   last:      0.00</text>
<text xml:space="preserve" x="30" y="384" font-size="11.1px" letter-spacing="0.31724500000000067px" text-anchor="start" fill="#000" >gi1/10 ICX-B201_2/3/4</text>
<text xml:space="preserve" x="228" y="384" font-size="11.1px" letter-spacing="0.31724500000000067px" text-anchor="start" fill="#000" >min:      0.00   max:      0.88   last:      0.00</text>
<text xml:space="preserve" x="30" y="398" font-size="11.1px" letter-spacing="0.31724500000000067px" text-anchor="start" fill="#000" >gi1/11 ICX-B301_2/2/8</text>
<text xml:space="preserve" x="228" y="398" font-size="11.1px" letter-spacing="0.31724500000000067px" text-anchor="start" fill="#000" >min:      0.00   max:      0.15   last:      0.00</text>
<text xml:space="preserve" x="30" y="412" font-size="11.1px" letter-spacing="0.31724500000000067px" text-anchor="start" fill="#000" >gi1/12 ICX-A001_1/3/4</text>
<text xml:space="preserve" x="228" y="412" font-size="11.1px" letter-spacing="0.31724500000000067px" text-anchor="start" fill="#000" >min:      0.00   max:      1.84   last:      0.00</text>
<text xml:space="preserve" x="30" y="426" font-size="11.1px" letter-spacing="0.31724500000000067px" text-anchor="start" fill="#000" >gi1/13 ICX-C201_2/2/8</text>
<text xml:space="preserve" x="228" y="426" font-size="11.1px" letter-spacing="0.31724500000000067px" text-anchor="start" fill="#000" >min:      0.00   max:      3.89   last:      0.00</text>
<text xml:space="preserve" x="30" y="440" font-size="11.1px" letter-spacing="0.31724500000000067px" text-anchor="start" fill="#000" >gi1/14 ICX-C101_2/3/4</text>
<text xml:space="preserve" x="228" y="440" font-size="11.1px" letter-spacing="0.31724500000000067px" text-anchor="start" fill="#000" >min:      0.00   max:      0.07   last:      0.00</text>
<text xml:space="preserve" x="30" y="454" font-size="11.1px" letter-spacing="0.31724500000000067px" text-anchor="start" fill="#000" >gi1/23 5520-New14_1/23</text>
<text xml:space="preserve" x="228" y="454" font-size="11.1px" letter-spacing="0.31724500000000067px" text-anchor="start" fill="#000" >min:      0.00   max:      0.00   last:      0.00</text>
<text xml:space="preserve" x="30" y="468" font-size="11.1px" letter-spacing="0.31724500000000067px" text-anchor="start" fill="#000" >gi1/24 VSP-BT2-1_1/24</text>
<text xml:space="preserve" x="228" y="468" font-size="11.1px" letter-spacing="0.31724500000000067px" text-anchor="start" fill="#000" >min:      0.00   max:      0.00   last:      0.00</text>
<text xml:space="preserve" x="30" y="482" font-size="11.1px" letter-spacing="0.31724500000000067px" text-anchor="start" fill="#000" >gi2/1 VSP-BT2-1_2/1</text>
<text xml:space="preserve" x="228" y="482" font-size="11.1px" letter-spacing="0.31724500000000067px" text-anchor="start" fill="#000" >min:      0.00   max:      0.00   last:      0.00</text>
<text xml:space="preserve" x="30" y="496" font-size="11.1px" letter-spacing="0.31724500000000067px" text-anchor="start" fill="#000" >gi2/2 VSP7432-RUD25_1/5</text>
<text xml:space="preserve" x="228" y="496" font-size="11.1px" letter-spacing="0.31724500000000067px" text-anchor="start" fill="#000" >min:      0.03   max:      0.79   last:      0.07</text>
</g>
<g shape-rendering="crispEdges" stroke-width="1"><rect x="15.5" y="249.5" width="8" height="9" fill="#ff0000" stroke="#000"/><rect x="15.5" y="263.5" width="8" height="9" fill="#00ff00" stroke="#000"/><rect x="15.5" y="277.5" width="8" height="9" fill="#0000ff" stroke="#000"/><rect x="15.5" y="291.5" width="8" height="9" fill="#00ffff" stroke="#000"/><rect x="15.5" y="305.5" width="8" height="9" fill="#ff00ff" stroke="#000"/><rect x="15.5" y="319.5" width="8" height="9" fill="#ffff00" stroke="#000"/><rect x="15.5" y="333.5" width="8" height="9" fill="#000000" stroke="#000"/><rect x="15.5" y="347.5" width="8" height="9" fill="#990000" stroke="#000"/><rect x="15.5" y="361.5" width="8" height="9" fill="#009900" stroke="#000"/><rect x="15.5" y="375.5" width="8" height="9" fill="#000099" stroke="#000"/><rect x="15.5" y="389.5" width="8" height="9" fill="#009999" stroke="#000"/><rect x="15.5" y="403.5" width="8" height="9" fill="#990099" stroke="#000"/><rect x="15.5" y="417.5" width="8" height="9" fill="#999900" stroke="#000"/><rect x="15.5" y="431.5" width="8" height="9" fill="#999999" stroke="#000"/><rect x="15.5" y="445.5" width="8" height="9" fill="#5c2a2a" stroke="#000"/><rect x="15.5" y="459.5" width="8" height="9" fill="#2a5c2a" stroke="#000"/><rect x="15.5" y="473.5" width="8" height="9" fill="#2a2a5c" stroke="#000"/><rect x="15.5" y="487.5" width="8" height="9" fill="#2a5c5c" stroke="#000"/></g>
<g font-family="'DejaVu Sans Mono','Liberation Mono',monospace" style="white-space:pre">
<text xml:space="preserve" x="345" y="522" font-size="11.1px" letter-spacing="0.31724500000000067px" text-anchor="start" fill="#000" >Graph last updated: Sun 01/Feb/2026 05:57:25 CET</text>
</g>
</svg></body></html>
